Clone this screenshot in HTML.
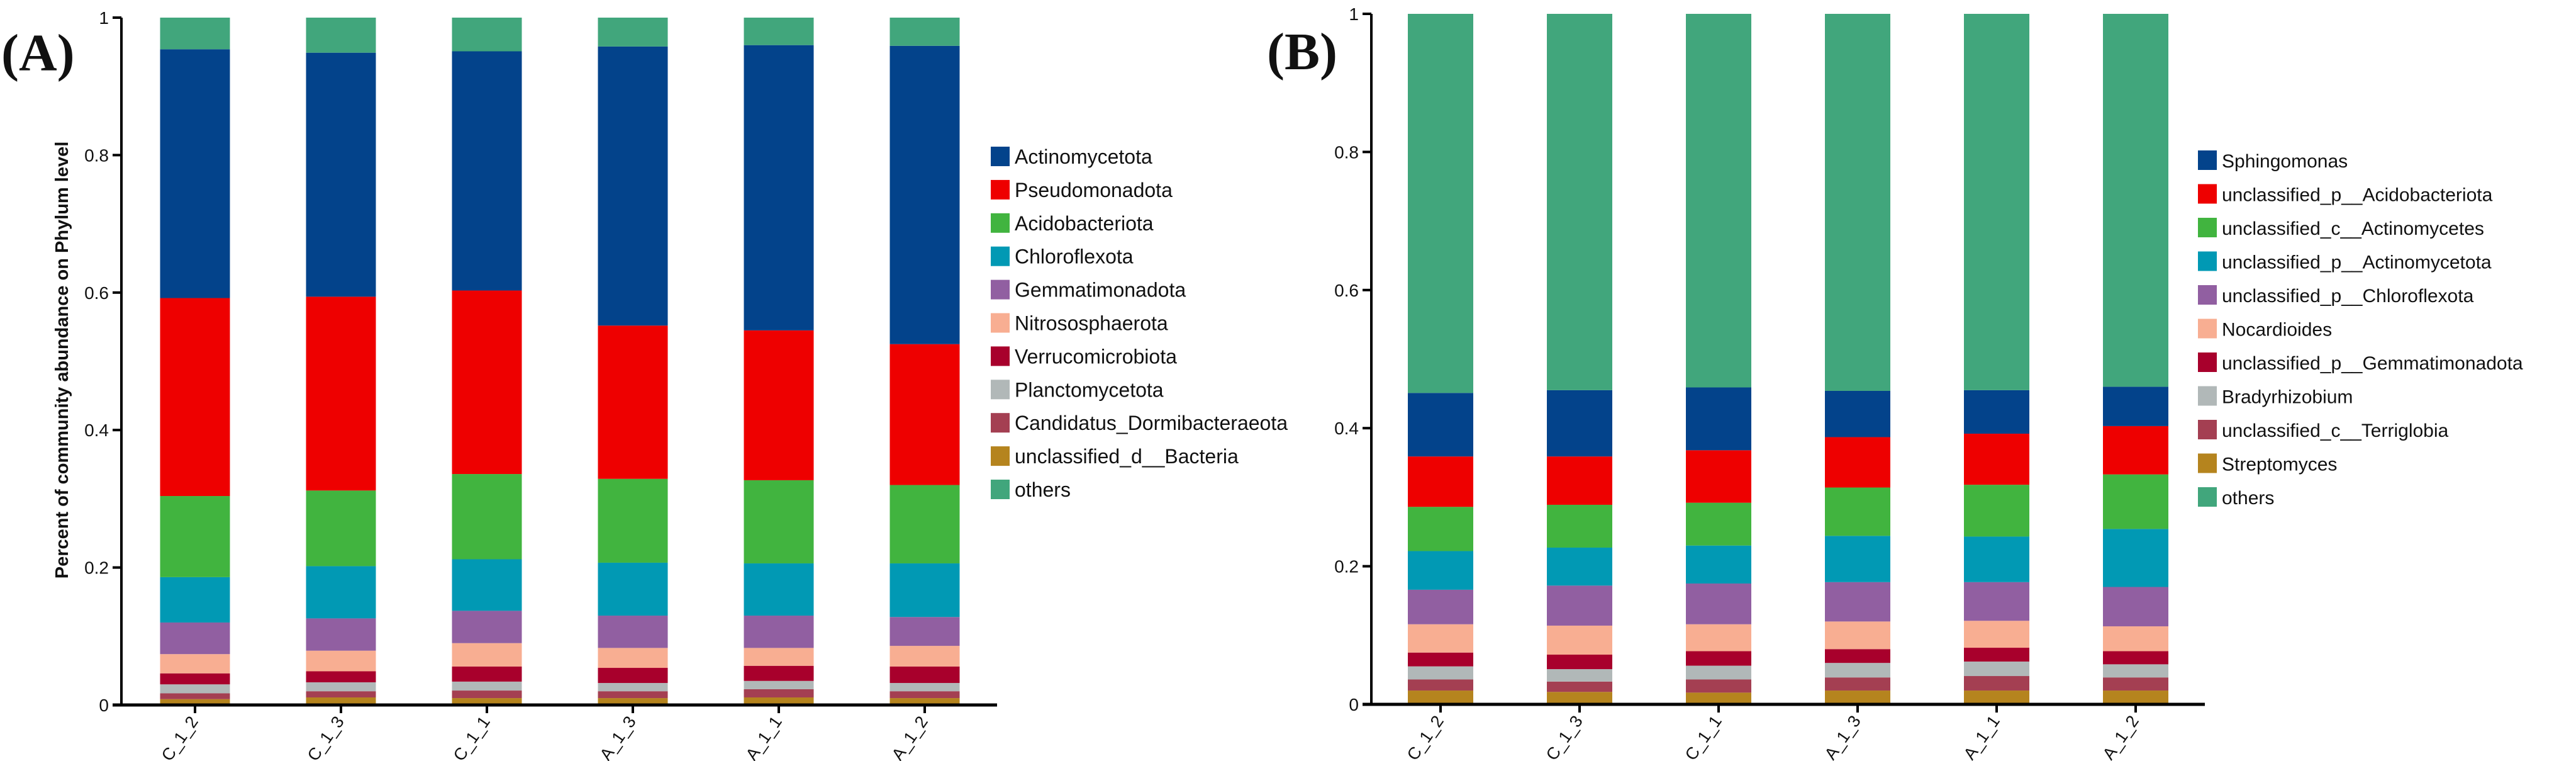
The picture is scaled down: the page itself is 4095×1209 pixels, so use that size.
<!DOCTYPE html>
<html><head><meta charset="utf-8"><style>
html,body{margin:0;padding:0;background:#fff;}
svg{display:block;}
text{font-family:"Liberation Sans",Arial,sans-serif;}
</style></head><body>
<svg id="chart" width="4095" height="1209" viewBox="0 0 4095 1209" xmlns="http://www.w3.org/2000/svg">
<g id="panelA"></g>
<g id="panelB"></g>
</svg>
<script>
const samples = ["C_1_2","C_1_3","C_1_1","A_1_3","A_1_1","A_1_2"];
const yTickVals = [0,0.2,0.4,0.6,0.8,1];
const yTickLabels = ["0","0.2","0.4","0.6","0.8","1"];

// Panel A (phylum) series, bottom to top stacking order
const seriesNamesA = ["unclassified_d__Bacteria","Candidatus_Dormibacteraeota","Planctomycetota","Verrucomicrobiota","Nitrososphaerota","Gemmatimonadota","Chloroflexota","Acidobacteriota","Pseudomonadota","Actinomycetota","others"];
const colorsA = ["#b5841e","#a43f52","#b1b8b8","#a8002c","#f8ae92","#915fa1","#0199b4","#41b43f","#ee0000","#03438b","#41a67c"];
const aUnclassified = [0.0085,0.011,0.010,0.010,0.011,0.010];
const aCandidatus = [0.0085,0.009,0.011,0.010,0.012,0.010];
const aPlancto = [0.013,0.013,0.013,0.012,0.012,0.012];
const aVerruco = [0.016,0.016,0.022,0.022,0.022,0.024];
const aNitroso = [0.028,0.030,0.034,0.029,0.026,0.030];
const aGemmati = [0.046,0.047,0.047,0.047,0.047,0.042];
const aChloro = [0.066,0.076,0.075,0.077,0.076,0.078];
const aAcido = [0.118,0.110,0.124,0.122,0.121,0.114];
const aPseudo = [0.288,0.282,0.267,0.223,0.218,0.205];
const aActino = [0.362,0.355,0.348,0.406,0.415,0.434];
const aOthers = [0.046,0.051,0.049,0.042,0.040,0.041];

// Panel B (genus) series, bottom to top stacking order
const seriesNamesB = ["Streptomyces","unclassified_c__Terriglobia","Bradyrhizobium","unclassified_p__Gemmatimonadota","Nocardioides","unclassified_p__Chloroflexota","unclassified_p__Actinomycetota","unclassified_c__Actinomycetes","unclassified_p__Acidobacteriota","Sphingomonas","others"];
const colorsB = colorsA;
const bStrepto = [0.020,0.018,0.017,0.020,0.020,0.020];
const bTerri = [0.016,0.015,0.019,0.019,0.021,0.019];
const bBrady = [0.019,0.018,0.020,0.021,0.021,0.019];
const bGemm = [0.020,0.021,0.021,0.020,0.020,0.019];
const bNocar = [0.041,0.042,0.039,0.040,0.039,0.036];
const bChloro = [0.050,0.058,0.059,0.057,0.056,0.057];
const bActP = [0.056,0.055,0.055,0.067,0.066,0.084];
const bActC = [0.064,0.062,0.062,0.070,0.075,0.079];
const bAcidoP = [0.073,0.070,0.076,0.073,0.074,0.070];
const bSphingo = [0.092,0.096,0.091,0.067,0.063,0.057];
const bOthers = [0.549,0.545,0.541,0.546,0.545,0.540];

const NS = "http://www.w3.org/2000/svg";
function mk(tag, attrs, parent){
  const e = document.createElementNS(NS, tag);
  for (const k in attrs) e.setAttribute(k, attrs[k]);
  parent.appendChild(e);
  return e;
}

function drawPanel(g, cfg){
  const yScale = v => cfg.y0 - v*(cfg.y0 - cfg.y1);
  const xScale = i => cfg.firstX + i*cfg.step;
  for (let i=0;i<samples.length;i++){
    let cum = 0;
    const bg = mk("g", {}, g);
    
    
    for (let s=0;s<cfg.series.length;s++){
      const v = cfg.series[s][i];
      const top = yScale(cum+v), bot = yScale(cum);
      const r = mk("rect", {x:xScale(i)-cfg.barW/2, y:top, width:cfg.barW, height:Math.max(0,bot-top), fill:cfg.colors[s]}, bg);
      
      
      cum += v;
    }
  }
  const ya = mk("line", {x1:cfg.axisX, y1:cfg.y1, x2:cfg.axisX, y2:cfg.y0+2, stroke:"#000","stroke-width":4}, g);
  
  
  for (let t=0;t<yTickVals.length;t++){
    const yy = yScale(yTickVals[t]);
    const tl = mk("line", {x1:cfg.axisX-14, y1:yy, x2:cfg.axisX, y2:yy, stroke:"#000","stroke-width":4}, g);
    
    
    const tx = mk("text", {x:cfg.axisX-20, y:yy+10, "text-anchor":"end","font-size":28, fill:"#111"}, g);
    tx.textContent = yTickLabels[t];
    
    
  }
  const xa = mk("line", {x1:cfg.axisX-14, y1:cfg.y0, x2:cfg.axisEnd, y2:cfg.y0, stroke:"#000","stroke-width":5}, g);
  
  
  for (let i=0;i<samples.length;i++){
    const xx = xScale(i);
    const tk = mk("line", {x1:xx, y1:cfg.y0, x2:xx, y2:cfg.y0+13, stroke:"#000","stroke-width":4}, g);
    
    
    const tx = mk("text", {x:xx+6, y:cfg.y0+26, "text-anchor":"end","font-size":27, fill:"#111", transform:"rotate(-55 "+(xx+6)+" "+(cfg.y0+26)+")"}, g);
    tx.textContent = samples[i];
    
    
  }
  // legend: reverse stacking for named taxa, then "others" last
  const n = cfg.names.length;
  const order = [];
  for (let s=n-2;s>=0;s--) order.push(s);
  order.push(n-1);
  for (let k=0;k<order.length;k++){
    const s = order[k];
    const ly = cfg.legY + k*cfg.legStep;
    const lg = mk("g", {}, g);
    
    
    const sq = mk("rect", {x:cfg.legX, y:ly, width:30, height:31, fill:cfg.colors[s]}, lg);
    
    
    const tx = mk("text", {x:cfg.legX+38, y:ly+27, "font-size":cfg.legFont, fill:"#111"}, lg);
    tx.textContent = cfg.names[s];
    
    
  }
}

const gA = document.getElementById("panelA");
drawPanel(gA, {y0:1120, y1:28, axisX:193, axisEnd:1585, firstX:310, step:232, barW:111,
  series:[aUnclassified,aCandidatus,aPlancto,aVerruco,aNitroso,aGemmati,aChloro,aAcido,aPseudo,aActino,aOthers],
  colors:colorsA, names:seriesNamesA, legX:1575, legY:233, legStep:52.9, legFont:32});
const gB = document.getElementById("panelB");
drawPanel(gB, {y0:1119, y1:22, axisX:2180, axisEnd:3505, firstX:2290, step:221, barW:104,
  series:[bStrepto,bTerri,bBrady,bGemm,bNocar,bChloro,bActP,bActC,bAcidoP,bSphingo,bOthers],
  colors:colorsB, names:seriesNamesB, legX:3494, legY:239, legStep:53.5, legFont:30});

const la = mk("text", {x:2, y:112, "font-size":84, "font-weight":"bold", fill:"#111", style:"font-family:'Liberation Serif',serif"}, gA);
la.textContent = "(A)";


const lb = mk("text", {x:2014, y:110, "font-size":84, "font-weight":"bold", fill:"#111", style:"font-family:'Liberation Serif',serif"}, gB);
lb.textContent = "(B)";


const yt = mk("text", {x:0, y:0, "text-anchor":"middle","font-size":29,"font-weight":"bold", fill:"#111", transform:"translate(108 572) rotate(-90)"}, gA);
yt.textContent = "Percent of community abundance on Phylum level";


</script>
</body></html>
